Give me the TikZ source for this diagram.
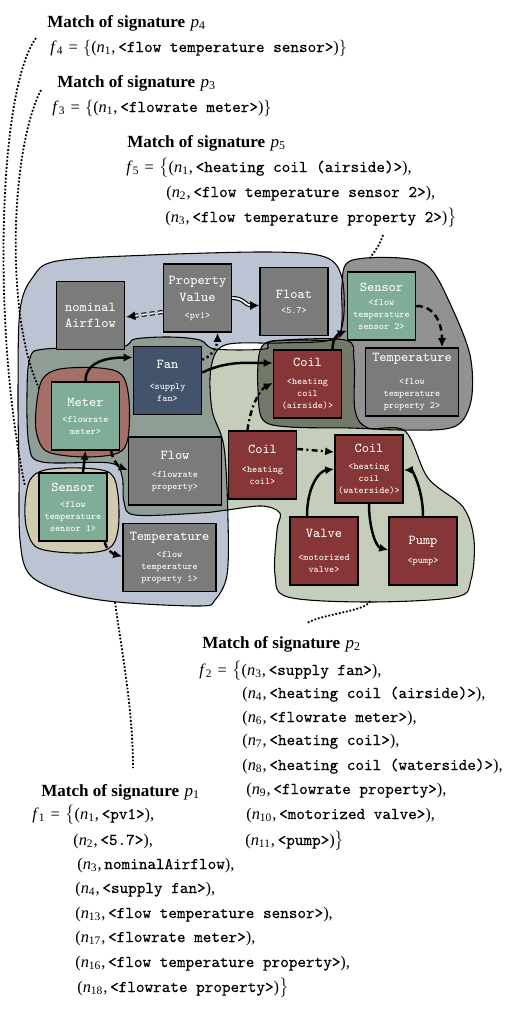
\documentclass[tikz,border=0pt]{standalone}
\usepackage{fontspec}
\setmainfont{Liberation Serif}
\setmonofont{Latin Modern Mono}[FakeBold=0.35]
\newfontfamily\boxtt{Latin Modern Mono}
\usetikzlibrary{arrows.meta,calc}
\definecolor{bluef}{RGB}{188,195,210}
\definecolor{greenf}{RGB}{197,206,186}
\definecolor{grayf}{RGB}{146,146,146}
\definecolor{sagef}{RGB}{143,157,148}
\definecolor{darkf}{RGB}{114,120,106}
\definecolor{redf}{RGB}{165,111,105}
\definecolor{tanf}{RGB}{209,203,177}
\definecolor{boxgray}{RGB}{123,123,123}
\definecolor{boxgreen}{RGB}{128,173,151}
\definecolor{boxfan}{RGB}{67,83,108}
\definecolor{boxred}{RGB}{134,54,55}
\newcommand\boxfont{\boxtt\fontsize{5.9}{7.3}\selectfont\lineskiplimit=-100pt\lineskip=0pt\relax}
\newcommand\ntitle[1]{{\fontsize{8.3}{7.3}\selectfont #1}}
\newcommand\Fv[1]{\textit{f}\textsubscript{#1}\hspace{3.2pt}=\hspace{3.2pt}}
\newcommand\Nv[1]{\textit{n}\textsubscript{#1}}
\newcommand\Pv[1]{\textit{p}\textsubscript{#1}}
\newcommand\Mt[1]{\textbf{Match of signature}\hspace{3.2pt}\Pv{#1}}
\def\blueblob{plot[smooth cycle, tension=0.55] coordinates {(20,310) (33,277) (57,261) (150,255) (270,252) (325,257) (342,278) (343,322) (330,340) (280,343) (225,345) (211,368) (212,410) (224,447) (228,520) (227,575) (215,600) (200,606) (117,602) (67,593) (30,575) (20,540) (19,470) (18,393)}}
\def\greenblob{plot[smooth cycle, tension=0.55] coordinates {(27,395) (30,358) (45,349) (120,347) (135,339) (170,337) (200,340) (215,349) (265,349) (273,341) (345,340) (354,360) (355,410) (368,428) (405,431) (428,478) (463,507) (474,540) (471,580) (456,597) (370,602) (288,597) (275,575) (277,530) (280,513) (262,506) (227,510) (200,513) (135,515) (124,502) (122,476) (110,463) (42,462) (29,445)}}
\def\grayblob{plot[smooth cycle, tension=0.55] coordinates {(342,285) (350,261) (400,258) (430,268) (453,310) (470,355) (472,395) (463,420) (445,429) (400,430) (350,428) (290,427) (263,420) (258,390) (259,355) (268,342) (300,340) (336,339) (342,320)}}
\def\redblob{plot[smooth cycle, tension=0.55] coordinates {(36,410) (42,380) (60,369) (100,368) (122,375) (129,400) (128,438) (118,453) (85,457) (48,452) (37,435)}}
\def\tanblob{plot[smooth cycle, tension=0.55] coordinates {(25,505) (30,480) (45,470) (80,468) (110,473) (118,495) (118,530) (108,549) (75,553) (38,548) (27,530)}}
\begin{document}
\begin{tikzpicture}[x=0.61pt,y=-0.61pt,
  gline/.style={draw=black, line width=0.65pt},
  bx/.style={draw=black, line width=0.9pt, minimum width=41.5pt, minimum height=41.5pt, text=white, align=center, inner sep=0pt, font=\boxfont},
  wide/.style={minimum width=56.7pt},
  sol/.style={line width=1.5pt, -{Latex[length=5.5pt,width=5pt]}},
  dsh/.style={sol, dash pattern=on 4pt off 2.5pt},
  dshdot/.style={sol, dash pattern=on 3.6pt off 2pt on 1.2pt off 2pt},
  dotar/.style={sol, dash pattern=on 1.3pt off 1.8pt},
  dbl/.style={double, double distance=1.1pt, line width=0.7pt, -{Latex[length=5.5pt,width=5.5pt]}},
  ddash/.style={dbl, dash pattern=on 3pt off 2pt},
  leader/.style={line width=1.1pt, dash pattern=on 1.1pt off 1.1pt},
  ln/.style={anchor=base west, inner sep=0pt, font=\fontsize{10}{12}\selectfont},
  ttl/.style={anchor=base west, inner sep=0pt, font=\fontsize{10.4}{12}\selectfont}]
\useasboundingbox (0,0) rectangle (527,1011);
% group fills
\fill[bluef] \blueblob;
\fill[greenf] \greenblob;
\fill[grayf] \grayblob;
\begin{scope}\clip \blueblob; \fill[sagef] \greenblob;\end{scope}
\begin{scope}\clip \grayblob; \fill[darkf] \greenblob;\end{scope}
\draw[gline] \blueblob;
\draw[gline] \greenblob;
\draw[gline] \grayblob;
\filldraw[gline, fill=redf] \redblob;
\filldraw[gline, fill=tanf] \tanblob;
% boxes
\node[bx, fill=boxgray] (na) at (90.5,315.5) {\ntitle{nominal}\\[2.5pt]\ntitle{Airflow}};
\node[bx, fill=boxgray] (pv) at (197.5,298) {\ntitle{Property}\\[3.1pt]\ntitle{Value}\\[3.1pt]<pv1>};
\node[bx, fill=boxgray] (fl) at (294,301.5) {\ntitle{Float}\\[1.9pt]<5.7>};
\node[bx, fill=boxgreen] (sens2) at (381.5,306) {\ntitle{Sensor}\\[1.2pt]<flow\\temperature\\sensor 2>};
\node[bx, wide, fill=boxgray] (temp2) at (412,382) {\ntitle{Temperature}\\[6.7pt]<flow\\temperature\\property 2>};
\node[bx, fill=boxred] (ca) at (307.5,384) {\ntitle{Coil}\\[3.7pt]<heating\\coil\\(airside)>};
\node[bx, fill=boxfan] (fan) at (167.5,380.5) {\ntitle{Fan}\\[5.5pt]<supply\\fan>};
\node[bx, fill=boxgreen] (me) at (85.5,416) {\ntitle{Meter}\\[2.5pt]<flowrate\\meter>};
\node[bx, wide, fill=boxgray] (flow) at (175,471) {\ntitle{Flow}\\[3.7pt]<flowrate\\property>};
\node[bx, fill=boxgreen] (sens1) at (73,507) {\ntitle{Sensor}\\[2.5pt]<flow\\temperature\\sensor 1>};
\node[bx, wide, fill=boxgray] (temp1) at (169.5,557.5) {\ntitle{Temperature}\\[3.1pt]<flow\\temperature\\property 1>};
\node[bx, fill=boxred] (co) at (262.5,465) {\ntitle{Coil}\\[4.3pt]<heating\\coil>};
\node[bx, fill=boxred] (cw) at (369,469) {\ntitle{Coil}\\[3.1pt]<heating\\coil\\(waterside)>};
\node[bx, fill=boxred] (va) at (324,551) {\ntitle{Valve}\\[6.7pt]<motorized\\valve>};
\node[bx, fill=boxred] (pu) at (423,551) {\ntitle{Pump}\\[4.3pt]<pump>};
% connectors
\draw[ddash] ($(pv.west)+(0,14)$) -- ($(na.east)+(1,1.5)$);
\draw[dbl] (pv.east) .. controls +(12,0) and +(-14,0) .. ($(fl.west)+(0,4)$);
\draw[dotar] ($(fan.north east)+(0,14)$) .. controls +(10,-3) and +(0,12) .. ($(pv.south)+(20,0)$);
\draw[sol] ($(fan.east)+(0,-8)$) .. controls +(25,-12) and +(-25,0) .. ($(ca.west)+(0,-21)$);
\draw[sol] (me.north) .. controls +(0,-20) and +(-25,0) .. ($(fan.west)+(0,-23)$);
\draw[sol] ($(sens1.north)+(10,0)$) -- (me.south);
\draw[dsh] ($(me.south east)+(-9,0)$) .. controls +(1,10) and +(-8,-3) .. ($(flow.west)+(0,-1)$);
\draw[dsh] ($(sens1.south east)+(-3,0)$) .. controls +(1,8) and +(-8,-2) .. ($(temp1.west)+(0,-1)$);
\draw[dshdot] ($(co.north)+(-15,0)$) .. controls +(3,-25) and +(-12,6) .. ($(ca.west)+(0,-1)$);
\draw[sol] ($(ca.north)+(25,0)$) .. controls +(0,-12) and +(-8,3) .. ($(sens2.south west)+(0,-10)$);
\draw[dsh] (sens2.east) .. controls +(20,0) and +(0,-22) .. ($(temp2.north)+(30,0)$);
\draw[dshdot] ($(co.east)+(0,-16)$) -- ($(cw.west)+(0,-17)$);
\draw[sol] ($(va.north)+(-17,0)$) .. controls +(0,-30) and +(-15,2) .. (cw.west);
\draw[sol] (cw.south) .. controls +(0,25) and +(-12,-3) .. ($(pu.west)+(0,-1)$);
\draw[sol] (pu.north) .. controls +(0,-28) and +(8,0) .. ($(cw.east)+(0,1)$);
% leaders
\coordinate (l4a) at (36,38); \coordinate (l4b) at (25,486);
\draw[leader] (l4a) .. controls (-2,90) and (-8,330) .. (l4b);
\coordinate (l3a) at (41,90); \coordinate (l3b) at (40,390);
\draw[leader] (l3a) .. controls (10,150) and (5,320) .. (l3b);
\coordinate (l5a) at (383,235); \coordinate (l5b) at (370,258);
\draw[leader] (l5a) .. controls +(-3,10) and +(4,-6) .. (l5b);
\coordinate (l2a) at (370,601); \coordinate (l2b) at (307,623);
\draw[leader] (l2a) .. controls +(-3,10) and +(15,-9) .. (l2b);
\coordinate (l1a) at (115,602); \coordinate (l1b) at (133,768);
\draw[leader] (l1a) .. controls +(6,45) and +(0,-60) .. (l1b);
% texts
\node[ttl] (m4) at (47,27) {\Mt{4}};
\node[ln] (f4) at (50,52) {\Fv{4}$\{$(\Nv{1},\,\texttt{<flow temperature sensor>})$\}$};
\node[ttl] (m3) at (57,87) {\Mt{3}};
\node[ln] (f3) at (52,112) {\Fv{3}$\{$(\Nv{1},\,\texttt{<flowrate meter>})$\}$};
\node[ttl] (m5) at (127,147) {\Mt{5}};
\node[ln] (f5a) at (126,172) {\Fv{5}$\big\{$(\Nv{1},\,\texttt{<heating coil (airside)>}),};
\node[ln] (f5b) at (166,197) {(\Nv{2},\,\texttt{<flow temperature sensor 2>}),};
\node[ln] (f5c) at (165,222) {(\Nv{3},\,\texttt{<flow temperature property 2>})$\big\}$};
\node[ttl] (m2) at (202,648) {\Mt{2}};
\node[ln] (f2a) at (199,675) {\Fv{2}$\big\{$(\Nv{3},\,\texttt{<supply fan>}),};
\node[ln] (f2b) at (242,698) {(\Nv{4},\,\texttt{<heating coil (airside)>}),};
\node[ln] (f2c) at (242,722) {(\Nv{6},\,\texttt{<flowrate meter>}),};
\node[ln] (f2d) at (242,745) {(\Nv{7},\,\texttt{<heating coil>}),};
\node[ln] (f2e) at (242,770) {(\Nv{8},\,\texttt{<heating coil (waterside)>}),};
\node[ln] (f2f) at (246,794) {(\Nv{9},\,\texttt{<flowrate property>}),};
\node[ln] (f2g) at (246,819) {(\Nv{10},\,\texttt{<motorized valve>}),};
\node[ln] (f2h) at (245,845) {(\Nv{11},\,\texttt{<pump>})$\big\}$};
\node[ttl] (m1) at (41,796) {\Mt{1}};
\node[ln] (f1a) at (32,819) {\Fv{1}$\big\{$(\Nv{1},\,\texttt{<pv1>}),};
\node[ln] (f1b) at (73,845) {(\Nv{2},\,\texttt{<5.7>}),};
\node[ln] (f1c) at (77,869) {(\Nv{3},\,\texttt{nominalAirflow}),};
\node[ln] (f1d) at (75,893) {(\Nv{4},\,\texttt{<supply fan>}),};
\node[ln] (f1e) at (75,918) {(\Nv{13},\,\texttt{<flow temperature sensor>}),};
\node[ln] (f1f) at (75,942) {(\Nv{17},\,\texttt{<flowrate meter>}),};
\node[ln] (f1g) at (75,967) {(\Nv{16},\,\texttt{<flow temperature property>}),};
\node[ln] (f1h) at (77,992) {(\Nv{18},\,\texttt{<flowrate property>})$\big\}$};
\end{tikzpicture}
\end{document}
